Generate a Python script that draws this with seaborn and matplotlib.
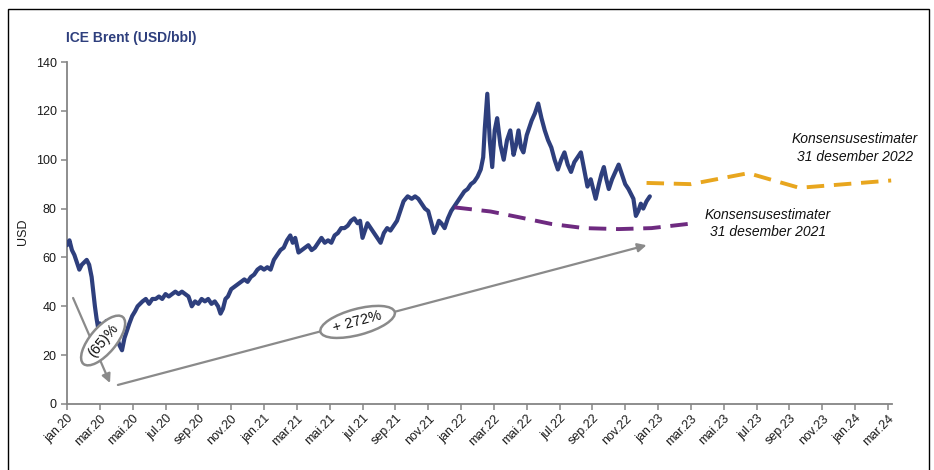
import numpy as np
import pandas as pd
import matplotlib
matplotlib.use("Agg")
import matplotlib.pyplot as plt
import seaborn as sns
from matplotlib.patches import Rectangle

# ---- data (x = months since jan.20) ----
months = [0.0, 0.15, 0.3, 0.45, 0.6, 0.75, 0.9, 1.05, 1.2, 1.35, 1.5, 1.6, 1.7, 1.8, 1.9,
          2.0, 2.1, 2.2, 2.3, 2.4, 2.5, 2.6, 2.75, 2.9, 3.05, 3.2, 3.35, 3.5, 3.65, 3.8,
          3.97, 4.15, 4.3, 4.45, 4.6, 4.8, 5.0, 5.2, 5.4, 5.6, 5.8, 6.0, 6.2, 6.4, 6.6,
          6.8, 7.0, 7.2, 7.4, 7.6, 7.8, 8.0, 8.2, 8.4, 8.6, 8.8, 9.0, 9.2, 9.35, 9.5,
          9.65, 9.8, 10.0, 10.2, 10.4, 10.6, 10.8, 11.0, 11.2, 11.4, 11.6, 11.8, 12.0,
          12.2, 12.4, 12.6, 12.8, 13.0, 13.2, 13.4, 13.6, 13.75, 13.9, 14.1, 14.3, 14.5,
          14.7, 14.9, 15.1, 15.3, 15.5, 15.7, 15.9, 16.1, 16.3, 16.5, 16.7, 16.9, 17.1,
          17.3, 17.5, 17.7, 17.85, 18.0, 18.15, 18.3, 18.5, 18.7, 18.9, 19.1, 19.3, 19.5,
          19.7, 19.9, 20.1, 20.3, 20.5, 20.75, 21.0, 21.2, 21.4, 21.6, 21.8, 22.0, 22.2,
          22.35, 22.5, 22.65, 22.8, 23.0, 23.2, 23.4, 23.6, 23.8, 24.0, 24.2, 24.4, 24.6,
          24.8, 25.0, 25.2, 25.35, 25.45, 25.6, 25.75, 25.9, 26.05, 26.2, 26.4, 26.6,
          26.8, 27.0, 27.2, 27.35, 27.5, 27.65, 27.8, 28.0, 28.15, 28.3, 28.5, 28.7, 28.9,
          29.1, 29.3, 29.5, 29.7, 29.9, 30.1, 30.3, 30.5, 30.7, 30.9, 31.1, 31.3, 31.5,
          31.7, 31.9, 32.05, 32.2, 32.4, 32.55, 32.7, 32.85, 33.0, 33.2, 33.4, 33.6, 33.8,
          34.0, 34.2, 34.35, 34.5, 34.65, 34.8, 34.95, 35.1, 35.3, 35.5]
brent = [65, 67, 63, 61, 58, 55, 57, 58, 59, 57, 52, 46, 40, 35, 31,
         33, 29, 27, 30, 34, 33, 29, 28, 25, 27, 24, 22, 27, 30, 33,
         36, 38, 40, 41, 42, 43, 41, 43, 43, 44, 43, 45, 44, 45, 46,
         45, 46, 45, 44, 40, 42, 41, 43, 42, 43, 41, 42, 40, 37, 39,
         43, 44, 47, 48, 49, 50, 51, 50, 52, 53, 55, 56, 55,
         56, 55, 59, 61, 63, 64, 67, 69, 66, 68, 62, 63, 64,
         65, 63, 64, 66, 68, 66, 67, 66, 69, 70, 72, 72, 73,
         75, 76, 74, 75, 68, 71, 74, 72, 70, 68, 66, 70, 72,
         71, 73, 75, 79, 83, 85, 84, 85, 84, 82, 80, 79, 74,
         70, 72, 75, 74, 72, 76, 79, 81, 83, 85, 87, 88, 90,
         91, 93, 96, 101, 113, 127, 108, 97, 112, 117, 106, 100,
         108, 112, 102, 106, 112, 105, 103, 110, 113, 116, 119, 123, 117,
         112, 108, 105, 100, 96, 100, 103, 98, 95, 99, 101, 103, 96,
         89, 92, 88, 84, 90, 94, 97, 92, 88, 92, 95, 98, 94,
         90, 88, 86, 84, 77, 79, 82, 80, 83, 85]

cons21_months = [23.6, 25.8, 27.5, 29.5, 31.5, 33.6, 35.6, 38.2]
cons21_values = [80.5, 78.8, 76.5, 73.7, 72.0, 71.6, 72.0, 74.0]

cons22_months = [35.3, 38.0, 41.5, 44.6, 50.2]
cons22_values = [90.5, 90.0, 94.5, 88.5, 91.5]

tick_months = list(range(0, 51, 2))
tick_labels = ["jan.20", "mar.20", "mai.20", "jul.20", "sep.20", "nov.20",
               "jan.21", "mar.21", "mai.21", "jul.21", "sep.21", "nov.21",
               "jan.22", "mar.22", "mai.22", "jul.22", "sep.22", "nov.22",
               "jan.23", "mar.23", "mai.23", "jul.23", "sep.23", "nov.23",
               "jan.24", "mar.24"]
y_ticks = [0, 20, 40, 60, 80, 100, 120, 140]

# ---- style ----
sns.set_style("ticks")
plt.rcParams['font.family'] = ['Liberation Sans', 'DejaVu Sans']

W, H = 934, 470
fig = plt.figure(figsize=(W / 100, H / 100), dpi=100)
ax = fig.add_axes([67 / W, 1 - 404 / H, 825 / W, 342 / H])

navy = '#2E3F7D'
purple = '#6E2A80'
orange = '#E8A61E'
grey = '#858585'

df = pd.DataFrame({'t': months, 'v': brent})
sns.lineplot(data=df, x='t', y='v', ax=ax, color=navy, lw=3.0,
             estimator=None, sort=False, zorder=3)

d21 = pd.DataFrame({'t': cons21_months, 'v': cons21_values})
sns.lineplot(data=d21, x='t', y='v', ax=ax, color=purple, lw=2.8,
             estimator=None, sort=False, zorder=4)
ax.lines[-1].set_dashes([4.5, 2.5])
ax.lines[-1].set_dash_capstyle('butt')

d22 = pd.DataFrame({'t': cons22_months, 'v': cons22_values})
sns.lineplot(data=d22, x='t', y='v', ax=ax, color=orange, lw=2.8,
             estimator=None, sort=False, zorder=4)
ax.lines[-1].set_dashes([4.5, 2.5])
ax.lines[-1].set_dash_capstyle('butt')

ax.set_xlim(0, 50.25)
ax.set_ylim(0, 140)
ax.set_xlabel('')
ax.set_ylabel('')
ax.set_yticks(y_ticks)
ax.set_xticks(tick_months)
ax.set_xticklabels(tick_labels, rotation=45, ha='right', rotation_mode='anchor')
ax.tick_params(axis='both', colors=grey, labelcolor='#1a1a1a', labelsize=9,
               length=4, width=1.1)
ax.tick_params(axis='x', pad=2)
for s in ['top', 'right']:
    ax.spines[s].set_visible(False)
for s in ['left', 'bottom']:
    ax.spines[s].set_color(grey)
    ax.spines[s].set_linewidth(1.3)

# arrows
arrow_kw = dict(arrowstyle='-|>', color='#8a8a8a', lw=1.6, mutation_scale=13,
                shrinkA=0, shrinkB=0)
ax.annotate('', xy=(2.62, 8.6), xytext=(0.37, 43.4), arrowprops=arrow_kw, zorder=2)
ax.annotate('', xy=(35.3, 65.0), xytext=(3.1, 7.8), arrowprops=arrow_kw, zorder=2)

ell_kw = dict(boxstyle='ellipse,pad=0.15', fc='white', ec='#8a8a8a', lw=1.8)
ax.text(2.2, 26.0, '(65)%', rotation=50, ha='center', va='center',
        rotation_mode='anchor', fontsize=10.5, color='#111111', bbox=ell_kw, zorder=6)
ax.text(17.7, 33.6, '+ 272%', rotation=15, ha='center', va='center',
        rotation_mode='anchor', fontsize=10.5, color='#111111', bbox=ell_kw, zorder=6)

# consensus labels
ax.text(48.0, 104.8, 'Konsensusestimater\n31 desember 2022', ha='center', va='center',
        fontsize=10, style='italic', color='#111111', linespacing=1.3)
ax.text(42.7, 73.9, 'Konsensusestimater\n31 desember 2021', ha='center', va='center',
        fontsize=10, style='italic', color='#111111', linespacing=1.3)

# title & y label
fig.text(66 / W, 1 - 38 / H, 'ICE Brent (USD/bbl)', fontsize=10, fontweight='bold',
         color=navy, ha='left', va='center')
fig.text(23 / W, 1 - 232 / H, 'USD', rotation=90, fontsize=9, color='#1a1a1a',
         ha='center', va='center')

# outer frame
fig.patches.append(Rectangle((8 / W, -0.05), (929 - 8) / W, 1.05 - 9 / H,
                             transform=fig.transFigure, fill=False, ec='black',
                             lw=1.0, zorder=10))

fig.savefig('out.png', dpi=100)
